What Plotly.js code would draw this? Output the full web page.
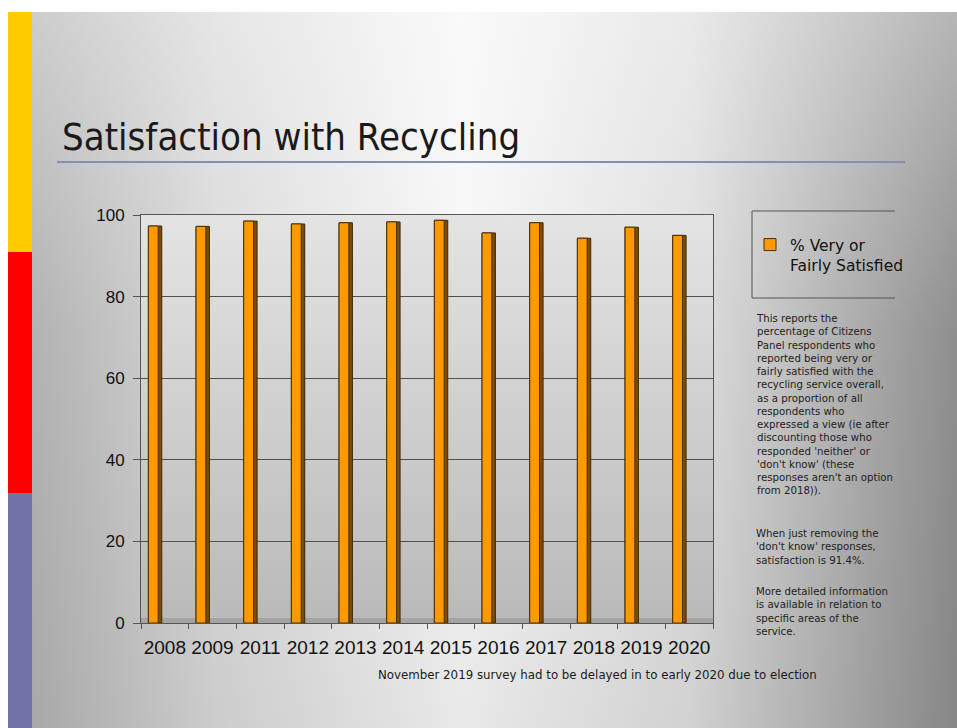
<!DOCTYPE html>
<html>
<head>
<meta charset="utf-8">
<script src="https://cdn.plot.ly/plotly-3.0.1.min.js"></script>
<style>
  html, body { margin:0; padding:0; width:957px; height:728px; background:#ffffff; overflow:hidden; }
  #slide { position:absolute; left:8px; top:12px; width:949px; height:716px;
    background:
      linear-gradient(to bottom, rgba(255,255,255,0.35) 0%, rgba(255,255,255,0) 45%, rgba(0,0,0,0.06) 100%),
      linear-gradient(to right, #adadad 0%, #d9d9d9 22%, #f7f7f7 48%, #dedede 72%, #8e8e8e 100%); }
  #chart { position:absolute; left:0; top:0; width:957px; height:728px; }
</style>
</head>
<body>
<div id="slide"></div>
<div id="chart"></div>
<script>
// ---- data ----
const years = ['2008','2009','2011','2012','2013','2014','2015','2016','2017','2018','2019','2020'];
const satisfied = [97.3, 97.2, 98.5, 97.8, 98.1, 98.3, 98.7, 95.6, 98.1, 94.3, 97.0, 95.0];
const seriesName = '% Very or<br>Fairly Satisfied';
const yTicks = [0, 20, 40, 60, 80, 100];
const chartTitle = 'Satisfaction with Recycling';
const notePara1 = [
  'This reports the',
  'percentage of Citizens',
  'Panel respondents who',
  'reported being very or',
  'fairly satisfied with the',
  'recycling service overall,',
  'as a proportion of all',
  'respondents who',
  'expressed a view (ie after',
  'discounting those who',
  "responded 'neither' or",
  "'don't know' (these",
  "responses aren't an option",
  'from 2018)).'
];
const notePara2 = [
  'When just removing the',
  "'don't know' responses,",
  'satisfaction is 91.4%.'
];
const notePara3 = [
  'More detailed information',
  'is available in relation to',
  'specific areas of the',
  'service.'
];
const footnote = 'November 2019 survey had to be delayed in to early 2020 due to election';

// ---- layout helpers (pixel -> paper) ----
const L = 141, R = 713, T = 215, B = 623;
const W = R - L, H = B - T;
const px = p => (p - L) / W;
const py = p => (B - p) / H;

const bgSvg = '<svg xmlns="http://www.w3.org/2000/svg" width="10" height="100" preserveAspectRatio="none">' +
  '<defs><linearGradient id="g" x1="0" y1="0" x2="0" y2="1">' +
  '<stop offset="0" stop-color="#e4e4e4"/><stop offset="1" stop-color="#b9b9b9"/></linearGradient></defs>' +
  '<rect width="10" height="100" fill="url(#g)"/></svg>';
const bgUri = 'data:image/svg+xml;charset=utf-8,' + encodeURIComponent(bgSvg);

const traces = [
  { // side face (3D look)
    type:'bar', x: years, y: satisfied, showlegend:false, hoverinfo:'skip',
    offset:-0.345, width:0.28,
    marker:{ color:'#7a4e08', line:{ color:'#3d2700', width:1 } }
  },
  { // front face
    type:'bar', x: years, y: satisfied, name: seriesName,
    offset:-0.345, width:0.205,
    marker:{ color:'#ff9900', line:{ color:'#4a3000', width:1 } }
  }
];

const shapes = [
  // left colour strip
  {type:'rect', xref:'paper', yref:'paper', x0:px(8), x1:px(32), y0:py(12), y1:py(252), fillcolor:'#ffcc00', line:{width:0}, layer:'below'},
  {type:'rect', xref:'paper', yref:'paper', x0:px(8), x1:px(32), y0:py(252), y1:py(493), fillcolor:'#ff0000', line:{width:0}, layer:'below'},
  {type:'rect', xref:'paper', yref:'paper', x0:px(8), x1:px(32), y0:py(493), y1:py(728), fillcolor:'#7372a8', line:{width:0}, layer:'below'},
  // title underline
  {type:'line', xref:'paper', yref:'paper', x0:px(57), x1:px(905), y0:py(162), y1:py(162), line:{color:'#8c8cae', width:2}},
  // floor band
  {type:'rect', xref:'paper', yref:'paper', x0:0, x1:1, y0:0, y1:py(618), fillcolor:'rgba(80,80,80,0.2)', line:{width:0}, layer:'below'},
  // legend box (right side open)
  {type:'line', xref:'paper', yref:'paper', x0:px(752), x1:px(895), y0:py(211), y1:py(211), line:{color:'#555', width:1}},
  {type:'line', xref:'paper', yref:'paper', x0:px(752), x1:px(895), y0:py(298), y1:py(298), line:{color:'#555', width:1}},
  {type:'line', xref:'paper', yref:'paper', x0:px(752), x1:px(752), y0:py(211), y1:py(298), line:{color:'#555', width:1}}
];

const noteFont = { family:'DejaVu Sans, sans-serif', size:10.2, color:'#222' };
const annotations = [
  { xref:'paper', yref:'paper', x:px(754), y:py(311), xanchor:'left', yanchor:'top', align:'left',
    showarrow:false, text: notePara1.join('<br>'), font: noteFont },
  { xref:'paper', yref:'paper', x:px(754), y:py(526), xanchor:'left', yanchor:'top', align:'left',
    showarrow:false, text: notePara2.join('<br>'), font: noteFont },
  { xref:'paper', yref:'paper', x:px(754), y:py(584), xanchor:'left', yanchor:'top', align:'left',
    showarrow:false, text: notePara3.join('<br>'), font: noteFont },
  { xref:'paper', yref:'paper', x:px(597), y:py(675), xanchor:'center', yanchor:'middle',
    showarrow:false, text: footnote,
    font:{ family:'DejaVu Sans, sans-serif', size:11.8, color:'#1a1a1a' } }
];

const layout = {
  width:957, height:728,
  margin:{ l:L, r:957-R, t:T, b:728-B, pad:0 },
  paper_bgcolor:'rgba(0,0,0,0)', plot_bgcolor:'rgba(0,0,0,0)',
  title:{ text: chartTitle, x:62/957, xanchor:'left', xref:'container', yref:'container',
          y:1-137/728, yanchor:'middle',
          font:{ family:'DejaVu Sans Condensed, sans-serif', size:38, color:'#1a1a1a' } },
  barmode:'overlay',
  bargap:0,
  showlegend:true,
  legend:{ x:px(750), y:py(228), xanchor:'left', yanchor:'top', bgcolor:'rgba(0,0,0,0)', borderwidth:0,
           valign:'top', itemwidth:30,
           font:{ family:'DejaVu Sans, sans-serif', size:15.5, color:'#111' } },
  xaxis:{ type:'category', tickson:'boundaries', ticks:'outside', ticklen:5, tickcolor:'#555',
          tickangle:0, ticklabelstandoff:7,
          showline:true, linecolor:'#555', mirror:true, showgrid:false,
          tickfont:{ family:'Liberation Sans, Arial, sans-serif', size:19, color:'#111' } },
  yaxis:{ range:[0,100], tickvals: yTicks, ticks:'outside', ticklen:7, tickcolor:'#555',
          ticklabelstandoff:5,
          showline:true, linecolor:'#555', mirror:true, showgrid:true, gridcolor:'#505050', gridwidth:1,
          zeroline:false,
          tickfont:{ family:'Liberation Sans, Arial, sans-serif', size:17, color:'#111' } },
  images:[{ source: bgUri, xref:'paper', yref:'paper', x:0, y:1, sizex:1, sizey:1,
            sizing:'stretch', xanchor:'left', yanchor:'top', layer:'below' }],
  shapes: shapes,
  annotations: annotations
};

Plotly.newPlot('chart', traces, layout, { displayModeBar:false, staticPlot:true });
</script>
</body>
</html>
